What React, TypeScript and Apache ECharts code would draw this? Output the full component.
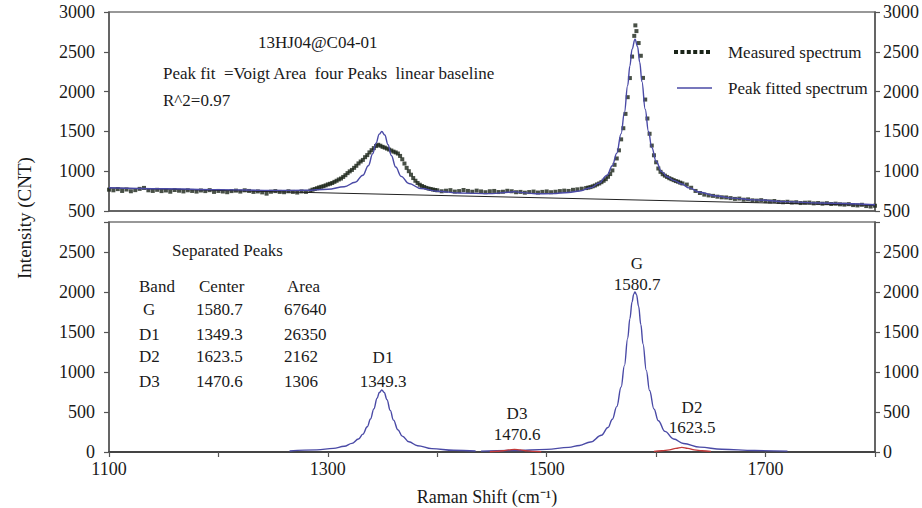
import React, { useEffect, useRef } from "react";
import * as echarts from "echarts";

// ---- data ----
const measured: [number, number][] = [
  [1100,768],[1104,760],[1108,775],[1112,752],[1116,770],[1120,748],[1124,762],[1128,778],[1132,790],[1136,760],
  [1140,752],[1144,766],[1148,750],[1152,758],[1156,742],[1160,764],[1164,755],[1168,746],[1172,760],[1176,752],
  [1180,744],[1184,758],[1188,750],[1192,762],[1196,740],[1200,752],[1204,745],[1208,736],[1212,750],[1216,756],
  [1220,744],[1224,760],[1228,752],[1232,740],[1236,746],[1240,734],[1244,718],[1248,742],[1252,750],[1256,740],
  [1260,736],[1264,748],[1268,740],[1272,732],[1276,746],[1280,740],[1284,756],
  [1286,768],[1288,776],[1290,786],[1292,796],[1294,804],[1296,812],[1298,822],[1300,834],[1302,842],[1304,852],
  [1306,866],[1308,880],[1310,896],[1312,908],[1314,928],[1316,950],[1318,976],[1320,998],[1322,1016],[1324,1042],
  [1326,1068],[1328,1098],[1330,1122],[1332,1142],[1334,1176],[1336,1202],[1338,1236],[1340,1264],[1342,1290],[1344,1316],
  [1346,1332],[1348,1320],[1350,1306],[1352,1296],[1354,1284],[1356,1272],[1358,1260],[1360,1246],[1362,1236],[1364,1222],
  [1366,1192],[1368,1150],[1370,1096],[1372,1042],[1374,1000],[1376,956],[1378,914],[1380,880],[1382,852],[1384,830],
  [1386,814],[1388,802],[1390,790],[1392,782],[1394,776],[1396,770],[1398,764],[1400,760],
  [1404,748],[1408,755],[1412,762],[1416,744],[1420,750],[1424,764],[1428,752],[1432,742],[1436,756],[1440,746],
  [1444,736],[1448,748],[1452,752],[1456,738],[1460,742],[1464,754],[1468,748],[1472,736],[1476,740],[1480,730],
  [1484,738],[1488,744],[1492,732],[1496,740],[1500,746],[1504,736],[1508,742],[1512,750],[1516,756],[1520,752],
  [1524,766],[1528,772],[1532,780],[1536,788],
  [1538,794],[1540,800],[1542,810],[1544,820],[1546,834],[1548,846],[1550,862],[1552,880],[1554,900],[1556,930],
  [1558,964],[1560,1010],[1562,1080],[1564,1160],[1566,1262],[1568,1400],[1570,1540],[1572,1720],[1574,1930],[1576,2170],
  [1578,2440],[1580,2700],[1581,2832],[1582,2760],[1584,2610],[1586,2450],[1588,2172],[1590,1900],[1592,1662],[1594,1470],
  [1596,1322],[1598,1200],[1600,1112],[1602,1034],[1604,992],[1606,962],[1608,944],[1610,928],[1612,912],[1614,900],
  [1616,888],[1618,876],[1620,868],[1622,856],[1624,846],
  [1628,832],[1632,792],[1636,752],[1640,726],[1644,706],[1648,696],[1652,690],[1656,680],[1660,672],[1664,670],
  [1668,662],[1672,652],[1676,656],[1680,642],[1684,646],[1688,634],[1692,630],[1696,636],[1700,624],[1704,620],
  [1708,626],[1712,614],[1716,610],[1720,616],[1724,606],[1728,610],[1732,600],[1736,604],[1740,606],[1744,596],
  [1748,600],[1752,592],[1756,598],[1760,588],[1764,592],[1768,584],[1772,580],[1776,586],[1780,574],[1784,570],
  [1788,578],[1792,562],[1796,556],[1800,566],
];

const fitted: [number, number][] = [
  [1100,793],[1150,780],[1200,768],[1250,759],[1280,760],[1300,773],[1315,804],[1325,861],[1332,950],[1337,1069],
  [1341,1219],[1344,1353],[1347,1466],[1349.3,1498],[1352,1454],[1355,1333],[1358,1198],[1362,1052],[1367,935],[1374,846],
  [1385,782],[1400,748],[1420,726],[1450,718],[1465,736],[1470.6,743],[1478,731],[1490,717],[1505,718],[1520,733],
  [1530,751],[1540,792],[1548,851],[1555,948],[1560,1069],[1564,1226],[1568,1472],[1571,1738],[1574,2079],[1576,2323],
  [1578,2533],[1580.7,2658],[1583,2565],[1585,2369],[1587,2127],[1590,1778],[1593,1499],[1596,1298],[1600,1125],[1605,995],
  [1610,930],[1616,885],[1623.5,840],[1630,790],[1640,735],[1655,688],[1670,662],[1690,640],[1720,618],[1750,600],[1800,578],
];

const baseline: [number, number][] = [[1100, 790], [1800, 570]];

const peakG: [number, number][] = [
  [1440,11],[1470,18],[1500,33],[1520,58],[1530,82],[1540,125],[1550,209],[1556,306],[1560,409],[1564,567],
  [1568,812],[1571,1079],[1574,1421],[1576,1666],[1578,1876],[1579.5,1974],[1580.7,2000],[1582,1970],[1584,1820],[1586,1594],
  [1588,1348],[1591,1019],[1594,768],[1598,538],[1602,391],[1608,258],[1616,163],[1625,106],[1640,61],[1660,34],
  [1690,18],[1720,11],
];
const peakD1: [number, number][] = [
  [1265,13],[1290,26],[1305,45],[1315,72],[1322,108],[1328,163],[1332,223],[1336,315],[1339,413],[1342,538],
  [1345,672],[1347,743],[1349.3,775],[1351.5,745],[1354,655],[1357,520],[1360,398],[1364,278],[1368,199],[1374,128],
  [1382,79],[1395,42],[1415,21],[1435,13],
];
const peakD3: [number, number][] = [
  [1448,4],[1455,9],[1460,16],[1465,26],[1470.6,33],[1476,26],[1482,14],[1488,8],[1495,4],
];
const peakD2: [number, number][] = [
  [1598,8],[1605,15],[1612,27],[1618,45],[1623.5,58],[1629,45],[1635,27],[1642,15],[1650,8],
];

const bandNames = ["G", "D1", "D2", "D3"];
const bandCenters = ["1580.7", "1349.3", "1623.5", "1470.6"];
const bandAreas = ["67640", "26350", "2162", "1306"];
const xLabelTicks = [1100, 1300, 1500, 1700];

const FONT = '"Liberation Serif", "Times New Roman", serif';
const TXT = "#1a1a1a";
const AXIS = "#555";
const BLUE = "#4a4aa6";
const RED = "#c23a3a";

function txt(text: string, x: number, y: number, align = "left", size = 17) {
  return {
    type: "text",
    x,
    y,
    silent: true,
    style: {
      text,
      fill: TXT,
      fontSize: size,
      fontFamily: FONT,
      align,
      textAlign: align,
      verticalAlign: "middle",
      textVerticalAlign: "middle",
    },
  };
}

export default function App() {
  const ref = useRef<HTMLDivElement>(null);
  useEffect(() => {
    if (!ref.current) return;
    const chart = echarts.init(ref.current, undefined, { renderer: "svg" });

    const yLabel = (margin: number) => ({
      color: TXT,
      fontSize: 18,
      fontFamily: FONT,
      margin,
      formatter: (v: number) => (v % 500 === 0 ? String(v) : ""),
    });
    const axisLine = { show: true, lineStyle: { color: AXIS, width: 1.5 } };
    const tick = { show: true, inside: false, length: 5, lineStyle: { color: AXIS, width: 1.2 } };

    const tableRowsY = [309, 334, 356, 381];
    const yTitle: any = txt("Intensity (CNT)", 24, 218, "center", 19);
    yTitle.rotation = Math.PI / 2;

    const graphic: any[] = [
      txt("13HJ04@C04-01", 258, 42),
      txt("Peak fit  =Voigt Area  four Peaks  linear baseline", 163, 73),
      txt("R^2=0.97", 163, 100),
      txt("Measured spectrum", 728, 52),
      txt("Peak fitted spectrum", 728, 88),
      {
        type: "line",
        silent: true,
        shape: { x1: 677, y1: 88, x2: 712, y2: 88 },
        style: { stroke: BLUE, lineWidth: 1.5 },
      },
      txt("Separated Peaks", 172, 250),
      txt("Band", 139, 286),
      txt("Center", 199, 286),
      txt("Area", 287, 286),
      yTitle,
      txt("Raman Shift (cm⁻¹)", 487, 497, "center", 18),
    ];

    for (let i = 0; i < 6; i++) {
      graphic.push({
        type: "rect",
        silent: true,
        shape: { x: 674 + i * 6.4, y: 50, width: 4, height: 4 },
        style: { fill: "#1a2418" },
      });
    }
    bandNames.forEach((b, i) => {
      graphic.push(txt(b, b === "G" ? 143 : 139, tableRowsY[i]));
      graphic.push(txt(bandCenters[i], 196, tableRowsY[i]));
      graphic.push(txt(bandAreas[i], 284, tableRowsY[i]));
    });
    const peakLabelPos: Record<string, [number, number, number]> = {
      G: [637, 263, 284],
      D1: [383, 357, 381],
      D2: [692, 407, 427],
      D3: [517, 413, 434],
    };
    bandNames.forEach((b, i) => {
      const p = peakLabelPos[b];
      graphic.push(txt(b, p[0], p[1], "center"));
      graphic.push(txt(bandCenters[i], p[0], p[2], "center"));
    });

    chart.setOption({
      animation: false,
      textStyle: { fontFamily: FONT },
      grid: [
        { left: 109, right: 45, top: 12, height: 199, show: true, borderColor: "#777", borderWidth: 1.5, backgroundColor: "transparent" },
        { left: 109, right: 45, top: 222, height: 230, show: true, borderColor: "#777", borderWidth: 1.5, backgroundColor: "transparent" },
      ],
      xAxis: [
        {
          gridIndex: 0, type: "value", min: 1100, max: 1800, interval: 100,
          axisLine, axisTick: { show: false }, axisLabel: { show: false }, splitLine: { show: false },
        },
        {
          gridIndex: 1, type: "value", min: 1100, max: 1800, interval: 100,
          axisLine: { show: true, lineStyle: { color: "#444", width: 2 } }, axisTick: tick, splitLine: { show: false },
          axisLabel: {
            color: TXT, fontSize: 18, fontFamily: FONT, margin: 8,
            formatter: (v: number) => (xLabelTicks.includes(v) ? String(v) : ""),
          },
        },
      ],
      yAxis: [
        { gridIndex: 0, type: "value", min: 500, max: 3000, interval: 500, position: "left", axisLine, axisTick: tick, axisLabel: yLabel(14), splitLine: { show: false } },
        { gridIndex: 0, type: "value", min: 500, max: 3000, interval: 500, position: "right", axisLine, axisTick: tick, axisLabel: yLabel(8), splitLine: { show: false } },
        { gridIndex: 1, type: "value", min: 0, max: 2875, interval: 500, position: "left", axisLine, axisTick: tick, axisLabel: yLabel(14), splitLine: { show: false } },
        { gridIndex: 1, type: "value", min: 0, max: 2875, interval: 500, position: "right", axisLine, axisTick: tick, axisLabel: yLabel(8), splitLine: { show: false } },
      ],
      series: [
        {
          type: "line", name: "baseline", xAxisIndex: 0, yAxisIndex: 0, data: baseline,
          showSymbol: false, lineStyle: { color: "#222", width: 1 }, silent: true,
        },
        {
          type: "scatter", name: "Measured spectrum", xAxisIndex: 0, yAxisIndex: 0, data: measured,
          symbol: "rect", symbolSize: 4, itemStyle: { color: "#1a2418" }, silent: true,
        },
        {
          type: "line", name: "Peak fitted spectrum", xAxisIndex: 0, yAxisIndex: 0, data: fitted,
          showSymbol: false, smooth: 0.4, smoothMonotone: "x", lineStyle: { color: BLUE, width: 1.4 }, silent: true,
        },
        {
          type: "line", name: "G", xAxisIndex: 1, yAxisIndex: 2, data: peakG,
          showSymbol: false, smooth: 0.4, smoothMonotone: "x", lineStyle: { color: BLUE, width: 1.4 }, silent: true,
        },
        {
          type: "line", name: "D1", xAxisIndex: 1, yAxisIndex: 2, data: peakD1,
          showSymbol: false, smooth: 0.4, smoothMonotone: "x", lineStyle: { color: BLUE, width: 1.4 }, silent: true,
        },
        {
          type: "line", name: "D2", xAxisIndex: 1, yAxisIndex: 2, data: peakD2,
          showSymbol: false, smooth: 0.4, smoothMonotone: "x", lineStyle: { color: RED, width: 1.4 }, silent: true,
        },
        {
          type: "line", name: "D3", xAxisIndex: 1, yAxisIndex: 2, data: peakD3,
          showSymbol: false, smooth: 0.4, smoothMonotone: "x", lineStyle: { color: RED, width: 1.4 }, silent: true,
        },
      ],
      graphic,
    });
    return () => chart.dispose();
  }, []);

  return (
    <div
      ref={ref}
      style={{ position: "fixed", left: 0, top: 0, width: 922, height: 508, background: "#fff" }}
    />
  );
}
